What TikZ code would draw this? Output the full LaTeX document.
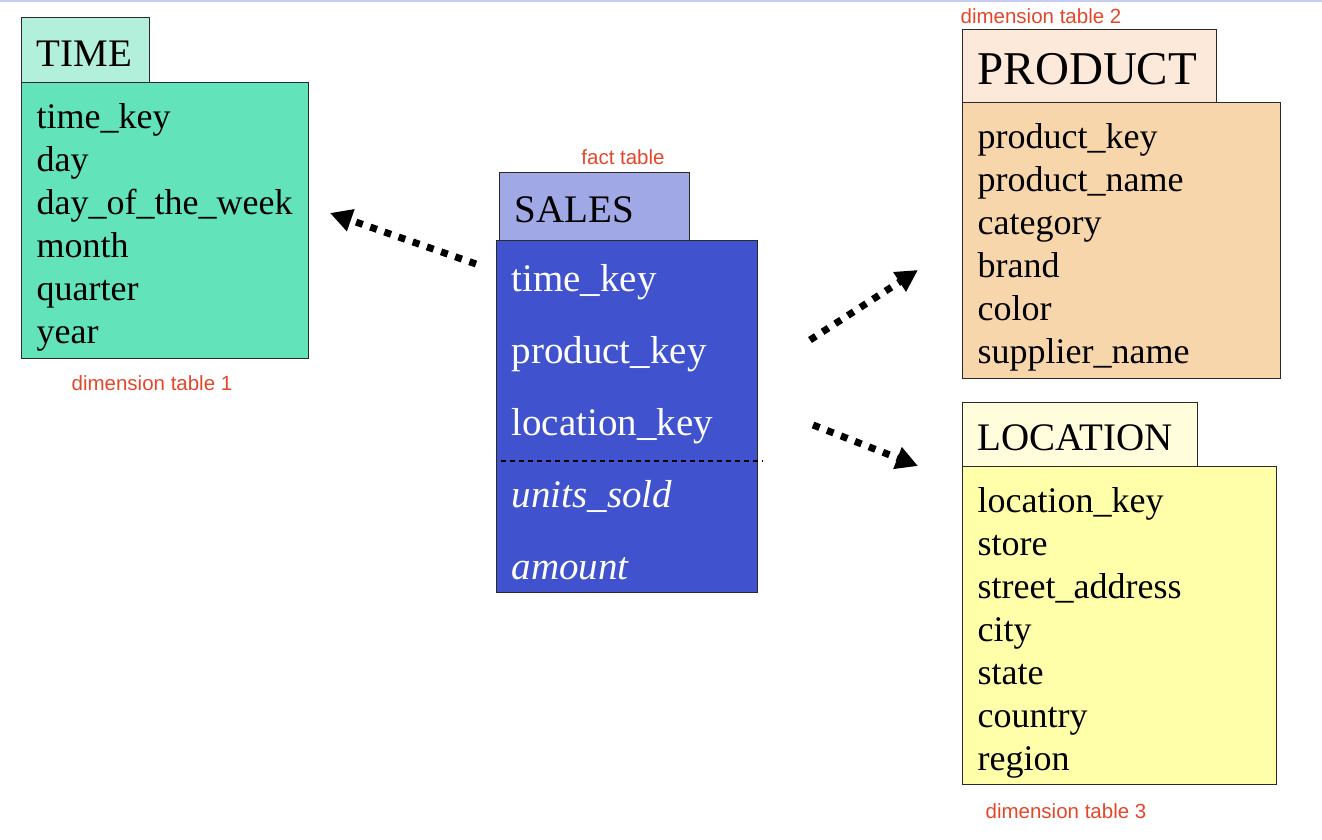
\documentclass[tikz,border=0pt]{standalone}
\usepackage{fontspec}
\setmainfont{Liberation Serif}
\newfontfamily\tagfont{Liberation Sans}
\usetikzlibrary{arrows.meta,positioning}
\definecolor{timehd}{HTML}{B2F0DC}
\definecolor{timebd}{HTML}{62E3B9}
\definecolor{saleshd}{HTML}{A0A8E6}
\definecolor{salesbd}{HTML}{4052CE}
\definecolor{prodhd}{HTML}{FDE9D9}
\definecolor{prodbd}{HTML}{F8D6AC}
\definecolor{lochd}{HTML}{FFFDDC}
\definecolor{locbd}{HTML}{FFFFAA}
\definecolor{tagred}{HTML}{E5462A}
\definecolor{boxline}{HTML}{2A2A2A}
\definecolor{topline}{HTML}{C8CCF0}
\begin{document}
\begin{tikzpicture}[x=1pt,y=-1pt,
  hd/.style={draw=boxline,line width=1.3pt,anchor=north west,inner xsep=15pt,inner ysep=0pt,align=left,font=\fontsize{39}{47}\selectfont,execute at begin node=\rule{0pt}{32pt}},
  bd/.style={draw=boxline,line width=1.3pt,anchor=north west,inner xsep=15pt,inner ysep=0pt,align=left,font=\fontsize{36}{43}\selectfont,execute at begin node=\rule{0pt}{38.5pt}},
  tag/.style={text=tagred,font=\tagfont\fontsize{20.5}{24}\selectfont},
  link/.style={line width=7pt,dash pattern=on 7pt off 8pt,-{Triangle[length=22pt,width=22pt]}}]
  \useasboundingbox (0,0) rectangle (1322,840);
  \draw[topline,line width=1.5pt] (0,1) -- (1322,1);

  \node[bd,fill=timebd,text width=257pt,minimum height=276pt] (T_bd) at (21,82)
    {time\_key\\ day\\ day\_of\_the\_week\\ month\\ quarter\\ year};
  \node[hd,fill=timehd,text width=98pt,minimum height=65pt] (T_hd) at (21,17) {TIME};
  \node[tag] (T_tag) at (152,383) {dimension table 1};

  \node[bd,fill=salesbd,text=white,text width=231pt,minimum height=352pt,font=\fontsize{39}{72}\selectfont,execute at begin node=\rule{0pt}{34.5pt}] (S_bd) at (496,240)
    {time\_key\\ product\_key\\ location\_key\\ \textit{units\_sold}\\ \textit{amount}};
  \node[hd,fill=saleshd,text width=160pt,minimum height=68pt,execute at begin node=\rule{0pt}{26pt}] (S_hd) at (499,172) {SALES};
  \node[tag] (S_tag) at (623,157) {fact table};
  \draw[dashed,line width=1.3pt,dash pattern=on 5pt off 4pt] ([shift={(5,221)}]S_bd.north west) -- ([shift={(4,221)}]S_bd.north east);

  \node[bd,fill=prodbd,text width=288pt,minimum height=276pt] (P_bd) at (962,102)
    {product\_key\\ product\_name\\ category\\ brand\\ color\\ supplier\_name};
  \node[hd,fill=prodhd,text width=224pt,minimum height=73pt,font=\fontsize{47}{56}\selectfont,execute at begin node=\rule{0pt}{37pt}] (P_hd) at (962,29) {PRODUCT};
  \node[tag] (P_tag) at (1041,16) {dimension table 2};

  \node[bd,fill=locbd,text width=284pt,minimum height=318pt] (L_bd) at (962,466)
    {location\_key\\ store\\ street\_address\\ city\\ state\\ country\\ region};
  \node[hd,fill=lochd,text width=205pt,minimum height=64pt] (L_hd) at (962,402) {LOCATION};
  \node[tag] (L_tag) at (1066,811) {dimension table 3};

  \coordinate (a_1s) at (476,264);
  \coordinate (a_1e) at (330,213);
  \coordinate (a_2s) at (810,340);
  \coordinate (a_2e) at (918,270);
  \coordinate (a_3s) at (813,425);
  \coordinate (a_3e) at (918,466);
  \draw[link] (a_1s) -- (a_1e);
  \draw[link] (a_2s) -- (a_2e);
  \draw[link] (a_3s) -- (a_3e);
\end{tikzpicture}
\end{document}
